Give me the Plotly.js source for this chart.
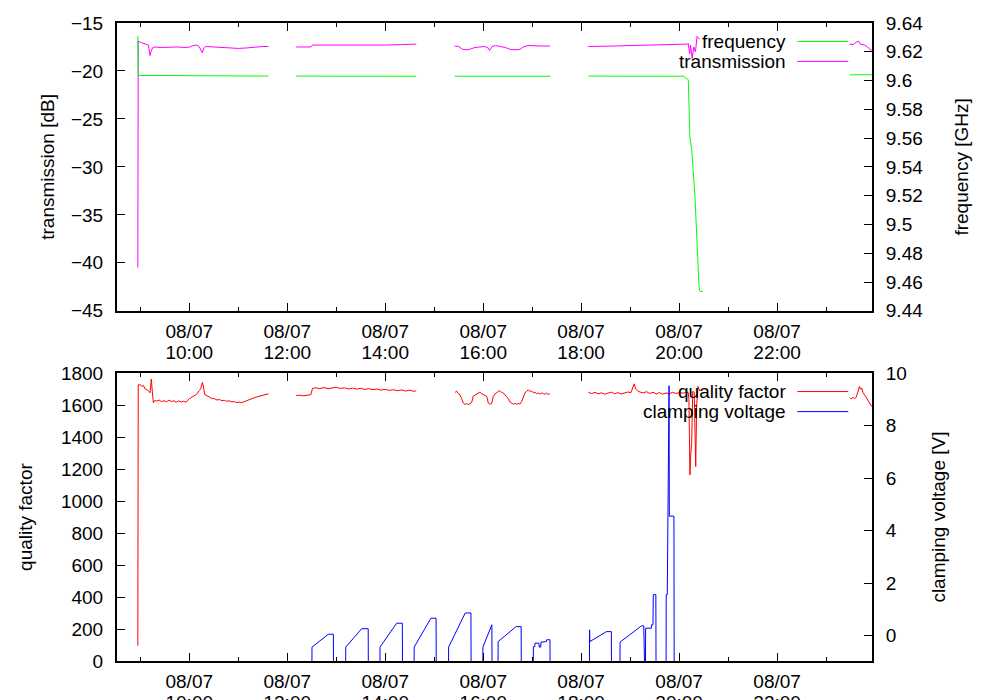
<!DOCTYPE html>
<html><head><meta charset="utf-8">
<script src="https://cdn.plot.ly/plotly-3.0.1.min.js"></script>
<style>html,body{margin:0;padding:0;background:#fff}#chart{width:1000px;height:700px}</style>
</head><body><div id="chart"></div>
<script>
const DAY = '2013-08-07 ';

// ---- top panel: transmission [dB] ----
const txTimes = ['08:57:00','08:57:30','09:00','09:04','09:08','09:10','09:12','09:13','09:15','09:18','09:25','09:35','09:45','09:55','10:01','10:05','10:09','10:12','10:16','10:18','10:20','10:30','10:40','10:50','11:00','11:10','11:20','11:30','11:37',
 '12:00',
 '12:11','12:29','12:31','12:45','13:00','13:20','13:40','14:00','14:20','14:38',
 '15:00',
 '15:25','15:30','15:35','15:40','15:45','15:50','15:56','16:02','16:06','16:08','16:11','16:15','16:21','16:27','16:33','16:39','16:45','16:49','16:55','17:04','17:12','17:22',
 '17:45',
 '18:09','18:20','18:40','19:00','19:20','19:40','20:00','20:10','20:11','20:13','20:14','20:16','20:18','20:20','20:22','20:24','20:25',
 '22:00',
 '23:29','23:33','23:37','23:40','23:42','23:47','23:51','23:54','23:56'];
const txValues = [-40.5,-16.9,-17.0,-17.1,-17.2,-17.3,-18.4,-18.0,-17.6,-17.5,-17.55,-17.5,-17.5,-17.55,-17.5,-17.35,-17.3,-17.45,-18.1,-17.6,-17.45,-17.5,-17.55,-17.6,-17.65,-17.6,-17.5,-17.45,-17.45,
 null,
 -17.5,-17.5,-17.3,-17.3,-17.3,-17.35,-17.3,-17.3,-17.25,-17.2,
 null,
 -17.4,-17.45,-17.75,-17.8,-17.7,-17.55,-17.5,-17.45,-17.6,-17.85,-17.45,-17.35,-17.45,-17.55,-17.75,-17.8,-17.75,-17.5,-17.35,-17.4,-17.4,-17.4,
 null,
 -17.45,-17.45,-17.4,-17.35,-17.3,-17.25,-17.2,-17.2,-17.1,-18.2,-17.3,-18.7,-17.5,-18.0,-16.4,-16.6,-16.7,
 null,
 -17.2,-17.25,-17.0,-16.9,-17.2,-17.3,-17.5,-17.8,-17.8];

// ---- top panel: frequency [GHz] ----
const freqTimes = ['08:57:00','08:57:30','09:30','10:30','11:37',
 '12:00',
 '12:11','13:30','14:38',
 '15:00',
 '15:25','16:30','17:22',
 '17:45',
 '18:09','19:00','20:05','20:08','20:11:13','20:13:10','20:15:25','20:19:27','20:21:30','20:24:20','20:25:35','20:28:55',
 '22:00',
 '23:29','23:56'];
const freqValues = [9.631,9.6035,9.6035,9.6033,9.6031,
 null,
 9.6031,9.6031,9.6030,
 null,
 9.6030,9.6030,9.6030,
 null,
 9.6031,9.6031,9.6030,9.6020,9.6006,9.561,9.552,9.519,9.487,9.457,9.4534,9.4534,
 null,
 9.604,9.604];

// ---- bottom panel: quality factor ----
const qTimes = ['08:57:00','08:57:30','09:00','09:02','09:04','09:06','09:08','09:10','09:12','09:13:30','09:14:30','09:16','09:18','09:20','09:23','09:26','09:29','09:32','09:35','09:38','09:41','09:44','09:47','09:50','09:53','09:56','10:00','10:03','10:06','10:09','10:12','10:14','10:16','10:17','10:19','10:22','10:25','10:28','10:31','10:34','10:37','10:40','10:43','10:46','10:49','10:52','10:55','10:58','11:01','11:04','11:07','11:10','11:13','11:16','11:19','11:22','11:25','11:28','11:31','11:34','11:37',
 '12:00',
 '12:11','12:15','12:20','12:25','12:29','12:31','12:35','12:40','12:45','12:50','12:55','13:00','13:05','13:10','13:15','13:20','13:25','13:30','13:35','13:40','13:45','13:50','13:55','14:00','14:05','14:10','14:15','14:20','14:25','14:30','14:35','14:38',
 '15:00',
 '15:25:30','15:27:30','15:29:30','15:31:40','15:33:40','15:35:40','15:37:40','15:39:50','15:41:50','15:43:50','15:46:00','15:47:55','15:50:00','15:52:00','15:54:00','15:56:00','15:58:00','16:00:10','16:02:10','16:04:20','16:06:20','16:08:20','16:10:25','16:12:25','16:14:30','16:16:35','16:18:35','16:20:35','16:22:40','16:24:40','16:26:50','16:28:50','16:30:50','16:32:50','16:34:50','16:36:55','16:39:00','16:41:00','16:43:00','16:45:05','16:47:10','16:49:10','16:51:15','16:53:15','16:55:15','16:57:20','16:59:25','17:01:30','17:03:30','17:05:35','17:07:40','17:09:40','17:11:40','17:13:40','17:15:40','17:17:45','17:19:50','17:21:50',
 '17:45',
 '18:09','18:13','18:17','18:21','18:25','18:29','18:33','18:37','18:41','18:45','18:49','18:53','18:57','19:01','19:03','19:05','19:07','19:09','19:12','19:16','19:20','19:24','19:28','19:32','19:36','19:40','19:44','19:48','19:52','19:56','20:00','20:05','20:09','20:11:00','20:12:00','20:13:15','20:14:20','20:15:25','20:16:40','20:18:30','20:20:20','20:21:30','20:23:10','20:25:00','20:27:30',
 '22:00',
 '23:29','23:31','23:33','23:35','23:37','23:39','23:41','23:42','23:44','23:45','23:47','23:49','23:51','23:53','23:56'];
const qValues = [96,1727,1727,1718,1722,1700,1696,1690,1677,1763,1700,1615,1630,1625,1632,1622,1628,1620,1631,1623,1627,1618,1626,1620,1624,1618,1640,1650,1660,1668,1690,1700,1742,1725,1665,1655,1650,1641,1640,1632,1635,1628,1630,1624,1627,1620,1622,1616,1619,1615,1622,1628,1632,1640,1645,1650,1655,1660,1664,1668,1671,
 null,
 1660,1662,1658,1664,1666,1705,1708,1703,1710,1702,1707,1712,1704,1708,1701,1706,1700,1705,1698,1703,1697,1700,1694,1699,1692,1696,1690,1695,1688,1694,1686,1690,
 null,
 1679,1688,1672,1665,1640,1613,1604,1610,1603,1609,1618,1656,1662,1667,1674,1681,1672,1666,1660,1655,1613,1606,1609,1656,1670,1680,1686,1690,1679,1676,1664,1655,1640,1619,1610,1606,1611,1605,1610,1607,1623,1650,1676,1688,1694,1686,1688,1678,1680,1671,1676,1668,1677,1672,1668,1675,1667,1671,
 null,
 1679,1672,1680,1670,1677,1668,1675,1681,1671,1678,1669,1676,1682,1678,1700,1733,1700,1690,1682,1676,1684,1673,1680,1670,1678,1668,1676,1671,1680,1673,1678,1675,1680,1680,1640,1164,1300,1364,1685,1680,1216,1600,1717,1690,1695,
 null,
 1644,1640,1648,1641,1650,1690,1717,1700,1705,1680,1668,1650,1632,1615,1591];

// ---- bottom panel: clamping voltage [V] (-2.5 = off, below the axis) ----
const cvTimes = ['12:00:00',
 '12:30:00','12:30:20','12:50:20','12:56:30','12:56:50',
 '13:11:20','13:11:40','13:31:10','13:39:10','13:39:30',
 '13:53:20','13:53:40','14:14:00','14:21:00','14:21:20',
 '14:35:10','14:35:30','14:56:00','15:02:20','15:02:40',
 '15:17:20','15:17:40','15:38:00','15:45:00','15:45:20',
 '15:59:20','15:59:40','16:10:40','16:11:00',
 '16:18:00','16:18:20','16:40:20','16:46:30','16:46:50',
 '17:01:10','17:01:30','17:03:10','17:03:30','17:08:20','17:08:40','17:10:30','17:10:50','17:13:30','17:13:50','17:17:30','17:17:50','17:21:50','17:22:10',
 '18:10:00','18:10:20','18:10:40','18:31:00','18:37:00','18:37:20',
 '18:47:20','18:47:40','19:10:00','19:12:00','19:14:00','19:16:40','19:17:00',
 '19:18:40','19:19:00','19:26:00','19:26:20','19:28:00','19:28:20','19:31:30','19:31:50',
 '19:44:00','19:44:10','19:45:30','19:47:40','19:48:00','19:53:40','19:54:00',
 '23:56:00'];
const cvValues = [-2.5,
 -2.5,-0.44,0.05,0.05,-2.5,
 -2.5,-0.44,0.26,0.26,-2.5,
 -2.5,-0.44,0.47,0.47,-2.5,
 -2.5,-0.44,0.66,0.66,-2.5,
 -2.5,-0.44,0.86,0.86,-2.5,
 -2.5,-0.44,0.41,-2.5,
 -2.5,-0.23,0.34,0.34,-2.5,
 -2.5,-0.42,-0.42,-0.29,-0.29,-0.44,-0.44,-0.25,-0.25,-0.23,-0.23,-0.16,-0.16,-2.5,
 -2.5,0.22,-0.23,0.15,0.15,-2.5,
 -2.5,-0.25,0.28,0.32,0.37,0.37,-2.5,
 -2.5,0.28,0.28,0.41,0.41,1.56,1.56,-2.5,
 -2.5,1.56,1.56,9.52,4.55,4.55,-2.5,
 -2.5];

// ---- axes ticks / labels ----
const xTickTimes = ['10:00','12:00','14:00','16:00','18:00','20:00','22:00'];
const xDateLabels = ['08/07','08/07','08/07','08/07','08/07','08/07','08/07'];
const xTimeLabels = ['10:00','12:00','14:00','16:00','18:00','20:00','22:00'];
const xRange = ['08:31:30','23:56:15'];
const freqTicks = [9.44,9.46,9.48,9.5,9.52,9.54,9.56,9.58,9.6,9.62,9.64];
const freqTickLabels = ['9.44','9.46','9.48','9.5','9.52','9.54','9.56','9.58','9.6','9.62','9.64'];

const T = a => a.map(t => DAY + t);

const FONT = 'Liberation Sans, Arial, sans-serif';
const FS = 19;

const traces = [
 {x:T(freqTimes), y:freqValues, xaxis:'x', yaxis:'y2', type:'scatter', mode:'lines', name:'frequency', line:{color:'#00ff00', width:1}, connectgaps:false},
 {x:T(txTimes), y:txValues, xaxis:'x', yaxis:'y', type:'scatter', mode:'lines', name:'transmission', line:{color:'#ff00ff', width:1}, connectgaps:false},
 {x:T(qTimes), y:qValues, xaxis:'x2', yaxis:'y3', type:'scatter', mode:'lines', name:'quality factor', line:{color:'#ff0000', width:1}, connectgaps:false},
 {x:T(cvTimes), y:cvValues, xaxis:'x2', yaxis:'y4', type:'scatter', mode:'lines', name:'clamping voltage', line:{color:'#0000ff', width:1}},
 // invisible carriers for the time-row tick labels
 {x:T(xRange), y:[null,null], xaxis:'x3', yaxis:'y', type:'scatter', mode:'lines', showlegend:false, hoverinfo:'skip'},
 {x:T(xRange), y:[null,null], xaxis:'x4', yaxis:'y3', type:'scatter', mode:'lines', showlegend:false, hoverinfo:'skip'}
];

const topDom = [0.5489, 1];
const botDom = [0, 0.4512];

const xBase = {
 type:'date', range:T(xRange), tickmode:'array', tickvals:T(xTickTimes),
 ticks:'inside', ticklen:8, tickwidth:1, tickcolor:'#000',
 showline:true, linewidth:2, linecolor:'#000', mirror:'ticks',
 showgrid:false, zeroline:false, tickfont:{family:FONT,size:FS,color:'#000'},
 minor:{tickmode:'linear', tick0:DAY+'09:00', dtick:3600000, ticks:'inside', ticklen:4, tickwidth:1, tickcolor:'#000', showgrid:false},
 ticklabelstandoff:2
};
const xTimeAxis = {
 type:'date', range:T(xRange), tickmode:'array', tickvals:T(xTickTimes), ticktext:xTimeLabels,
 ticks:'', showline:false, showgrid:false, zeroline:false,
 tickfont:{family:FONT,size:FS,color:'#000'}, ticklabelstandoff:28
};
const yBase = {
 ticks:'inside', ticklen:8, tickwidth:1, tickcolor:'#000',
 showline:true, linewidth:2, linecolor:'#000', showgrid:false, zeroline:false,
 tickfont:{family:FONT,size:FS,color:'#000'}, ticklabelstandoff:8
};

const layout = {
 width:1000, height:700, paper_bgcolor:'#fff', plot_bgcolor:'#fff',
 margin:{l:117, r:128, t:23, b:39}, showlegend:false,
 font:{family:FONT, size:FS, color:'#000'},
 xaxis:Object.assign({}, xBase, {domain:[0,1], anchor:'y', ticktext:xDateLabels}),
 xaxis2:Object.assign({}, xBase, {domain:[0,1], anchor:'y3', ticktext:xDateLabels}),
 xaxis3:Object.assign({}, xTimeAxis, {overlaying:'x', anchor:'y', side:'bottom'}),
 xaxis4:Object.assign({}, xTimeAxis, {overlaying:'x2', anchor:'y3', side:'bottom'}),
 yaxis:Object.assign({}, yBase, {domain:topDom, anchor:'x', range:[-45,-15], tickmode:'linear', tick0:-45, dtick:5,
   title:{text:'transmission [dB]', font:{family:FONT,size:FS}, standoff:11}}),
 yaxis2:Object.assign({}, yBase, {overlaying:'y', side:'right', anchor:'x', range:[9.44,9.64], tickmode:'array', tickvals:freqTicks, ticktext:freqTickLabels,
   title:{text:'frequency [GHz]', font:{family:FONT,size:FS}, standoff:32}}),
 yaxis3:Object.assign({}, yBase, {domain:botDom, anchor:'x2', range:[0,1800], tickmode:'linear', tick0:0, dtick:200,
   title:{text:'quality factor', font:{family:FONT,size:FS}, standoff:23}}),
 yaxis4:Object.assign({}, yBase, {overlaying:'y3', side:'right', anchor:'x2', range:[-0.97,10], tickmode:'linear', tick0:0, dtick:2,
   title:{text:'clamping voltage [V]', font:{family:FONT,size:FS}, standoff:26}}),
 annotations:[
  {xref:'paper', yref:'paper', x:0.8888, y:0.9711, xanchor:'right', yanchor:'middle', text:'frequency', showarrow:false, font:{family:FONT,size:FS,color:'#000'}},
  {xref:'paper', yref:'paper', x:0.8888, y:0.9398, xanchor:'right', yanchor:'middle', text:'transmission', showarrow:false, font:{family:FONT,size:FS,color:'#000'}},
  {xref:'paper', yref:'paper', x:0.8888, y:0.4223, xanchor:'right', yanchor:'middle', text:'quality factor', showarrow:false, font:{family:FONT,size:FS,color:'#000'}},
  {xref:'paper', yref:'paper', x:0.8888, y:0.3909, xanchor:'right', yanchor:'middle', text:'clamping voltage', showarrow:false, font:{family:FONT,size:FS,color:'#000'}}
 ],
 shapes:[
  {type:'line', xref:'paper', yref:'paper', x0:0.9011, x1:0.9686, y0:0.9711, y1:0.9711, line:{color:'#00ff00', width:1}},
  {type:'line', xref:'paper', yref:'paper', x0:0.9011, x1:0.9686, y0:0.9398, y1:0.9398, line:{color:'#ff00ff', width:1}},
  {type:'line', xref:'paper', yref:'paper', x0:0.9011, x1:0.9686, y0:0.4223, y1:0.4223, line:{color:'#ff0000', width:1}},
  {type:'line', xref:'paper', yref:'paper', x0:0.9011, x1:0.9686, y0:0.3909, y1:0.3909, line:{color:'#0000ff', width:1}}
 ]
};

Plotly.newPlot('chart', traces, layout, {displayModeBar:false, responsive:false});
</script>
</body></html>
